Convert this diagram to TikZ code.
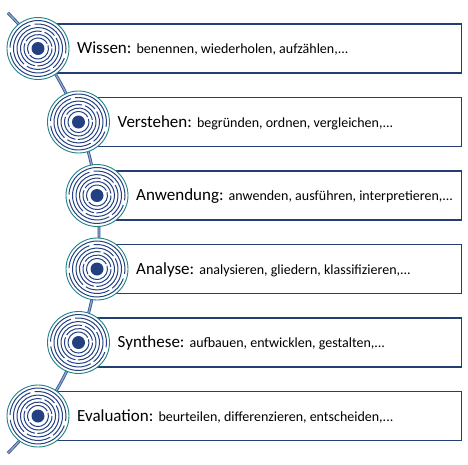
\documentclass[tikz,border=0pt]{standalone}
\usepackage{fontspec}
\setmainfont{Carlito}
\usepackage{tikz}
\usetikzlibrary{positioning, calc}
\definecolor{boxblue}{RGB}{36, 62, 115}
\definecolor{ringblue}{RGB}{35, 65, 130}
\definecolor{ringteal}{RGB}{30, 130, 130}
\definecolor{spineblue}{RGB}{50, 80, 140}
\definecolor{spinelight}{RGB}{140, 168, 210}
\newcommand{\levelverbs}[1]{{\fontsize{14}{16}\selectfont #1}}
\tikzset{
  levelbox/.style={draw=boxblue, line width=1.3pt, fill=white, minimum height=49pt, anchor=west, inner sep=0pt},
  leveltext/.style={anchor=base west, inner sep=0pt, font=\fontsize{17}{20}\selectfont},
  ring/.style={circle, draw=ringteal, line width=0.9pt, fill=white, minimum size=62pt, inner sep=0pt},
  ringline/.style={draw=ringblue, line width=1pt},
  spine/.style={draw=spineblue, double=spinelight, line width=0.8pt, double distance=1.3pt},
  rings/.pic={
    \foreach \r/\a/\b/\c/\d in {28/20/172/182/370, 24.5/60/252/262/412, 21/-30/122/132/322,
                               17.5/100/282/292/452, 14/0/202/212/352, 10.5/150/332/342/502}{
      \draw[ringline] (\a:\r) arc[start angle=\a, end angle=\b, radius=\r];
      \draw[ringline] (\c:\r) arc[start angle=\c, end angle=\d, radius=\r];
    }
    \fill[ringblue] (0,0) circle[radius=6.5];
  }
}

\begin{document}
\begin{tikzpicture}[x=1pt, y=-1pt]
  \useasboundingbox (0,0) rectangle (468,464);

  % Spine
  \coordinate (spinetop) at (7.8,12.8);
  \draw[spine] (spinetop) arc[start angle=-45, end angle=45, radius=311.4];

  % Boxes
  \node[levelbox, minimum width=423pt] (wissen) at (38,48.5) {};
  \node[levelbox, minimum width=382.5pt] (verstehen) at (78.5,122) {};
  \node[levelbox, minimum width=364pt] (anwendung) at (97,195.5) {};
  \node[levelbox, minimum width=364pt] (analyse) at (97,269) {};
  \node[levelbox, minimum width=382.5pt] (synthese) at (78.5,342.5) {};
  \node[levelbox, minimum width=423pt] (evaluation) at (38,416) {};

  % Targets
  \node[ring] (wissen-c) at (wissen.west) {};
  \node[ring] (verstehen-c) at (verstehen.west) {};
  \node[ring] (anwendung-c) at (anwendung.west) {};
  \node[ring] (analyse-c) at (analyse.west) {};
  \node[ring] (synthese-c) at (synthese.west) {};
  \node[ring] (evaluation-c) at (evaluation.west) {};
  \pic at (wissen-c) {rings};
  \pic at (verstehen-c) {rings};
  \pic at (anwendung-c) {rings};
  \pic at (analyse-c) {rings};
  \pic at (synthese-c) {rings};
  \pic at (evaluation-c) {rings};

  % Labels
  \node[leveltext] (wissen-t) at ($(wissen-c)+(39,5)$) {Wissen: \levelverbs{benennen, wiederholen, aufzählen,...}};
  \node[leveltext] (verstehen-t) at ($(verstehen-c)+(39,5)$) {Verstehen: \levelverbs{begründen, ordnen, vergleichen,...}};
  \node[leveltext] (anwendung-t) at ($(anwendung-c)+(39,5)$) {Anwendung: \levelverbs{anwenden, ausführen, interpretieren,...}};
  \node[leveltext] (analyse-t) at ($(analyse-c)+(39,5)$) {Analyse: \levelverbs{analysieren, gliedern, klassifizieren,...}};
  \node[leveltext] (synthese-t) at ($(synthese-c)+(39,5)$) {Synthese: \levelverbs{aufbauen, entwicklen, gestalten,...}};
  \node[leveltext] (evaluation-t) at ($(evaluation-c)+(39,5)$) {Evaluation: \levelverbs{beurteilen, differenzieren, entscheiden,...}};
\end{tikzpicture}
\end{document}
